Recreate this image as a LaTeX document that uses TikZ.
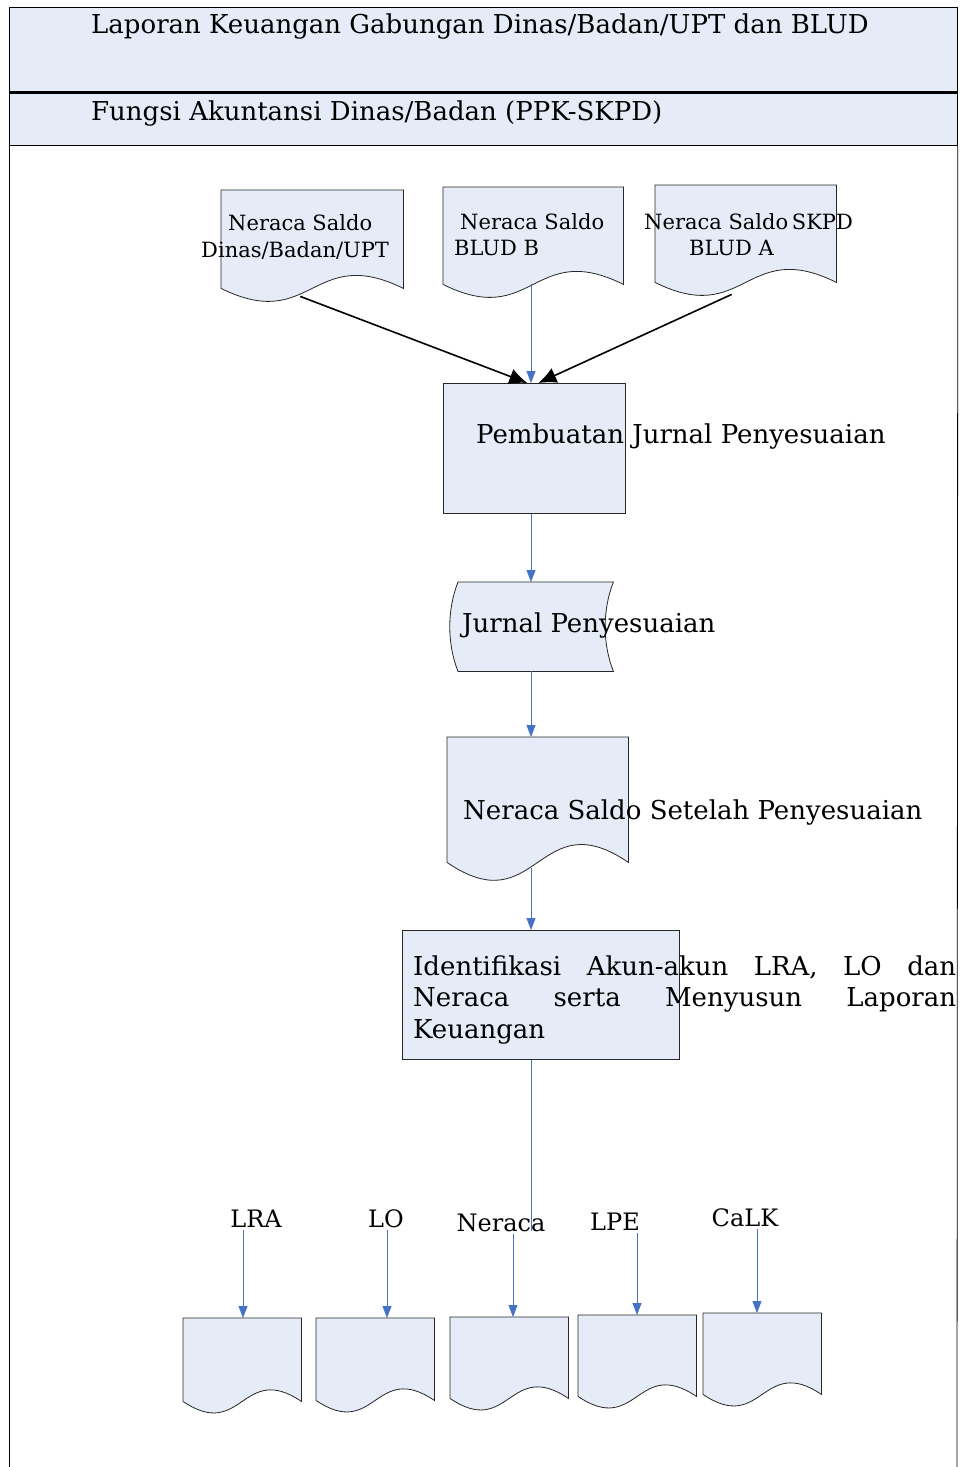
\documentclass[tikz,border=0pt]{standalone}
\usepackage{fontspec}
\setmainfont{DejaVu Serif}
\usepackage{xcolor}
\usepackage{tikz}
\usetikzlibrary{positioning,arrows.meta}

\definecolor{boxfill}{HTML}{E6ECF7}
\definecolor{flowblue}{HTML}{4472C4}

% document shape with wavy bottom around the node's south side
\newcommand{\docshape}[2][40pt]{%
  \filldraw[draw=black!85, fill=boxfill, line width=0.8pt]
    (#2.north west) -- (#2.north east) -- (#2.south east)
    .. controls ([yshift=#1]#2.south) and ([yshift=-#1]#2.south) .. (#2.south west) -- cycle;}

\begin{document}
\begin{tikzpicture}[x=1pt, y=-1pt,
  docbox/.style={inner sep=0, anchor=north west},
  procbox/.style={draw=black!85, fill=boxfill, line width=0.8pt, inner sep=0, anchor=north west},
  txt/.style={inner sep=0, anchor=base west, font=\fontsize{26}{31.5}\selectfont},
  lbl/.style={inner sep=0, anchor=base, font=\fontsize{24}{30}\selectfont},
  small/.style={inner sep=0, anchor=base west, font=\fontsize{21}{24}\selectfont},
  flow/.style={draw=flowblue, line width=0.8pt, -{Triangle[length=12pt,width=9pt]}},
  feed/.style={black, line width=1.6pt, -{Latex[length=18pt,width=16pt]}}]

\useasboundingbox (0,0) rectangle (963,1467);

% header bands and frame
\node[procbox, draw=black, minimum width=948, minimum height=85] (judul) at (9,7) {};
\node[procbox, draw=black, minimum width=948, minimum height=53] (fungsi) at (9,92) {};
\draw[line width=2.8pt] (judul.south west) -- (judul.south east);
\draw[line width=0.8pt] (fungsi.south west) -- (9,1467);
\draw[line width=0.8pt] (fungsi.south east) -- (957,1467);
\node[txt] (tjudul) at (91,33) {Laporan Keuangan Gabungan Dinas/Badan/UPT dan BLUD};
\node[txt] (tfungsi) at (91,120) {Fungsi Akuntansi Dinas/Badan (PPK-SKPD)};

% neraca saldo sources
\node[docbox, minimum width=182, minimum height=98] (dinas) at (221,190) {};
\node[docbox, minimum width=180, minimum height=97] (bludb) at (443,187) {};
\node[docbox, minimum width=181, minimum height=97] (skpd) at (655,185) {};
\docshape[45pt]{dinas}
\docshape[45pt]{bludb}
\docshape[45pt]{skpd}
\node[small] (tdinas1) at (228,230) {Neraca Saldo};
\node[small] (tdinas2) at (201,257) {Dinas/Badan/UPT};
\node[small] (tbludb1) at (460,229) {Neraca Saldo};
\node[small] (tbludb2) at (454,255) {BLUD B};
\node[small] (tskpd1) at (644,229) {Neraca Saldo\hspace{-3pt} SKPD};
\node[small] (tskpd2) at (689,255) {BLUD A};

% main flow
\coordinate (tulang) at (531,0);
\node[procbox, minimum width=182, minimum height=130] (pjp) at (443,383) {};
\node[txt] (tpjp) at (476,443) {Pembuatan Jurnal Penyesuaian};

\node[docbox, minimum width=155, minimum height=89] (jurnal) at (458,582) {};
\filldraw[draw=black!85, fill=boxfill, line width=0.8pt]
  (jurnal.north west) -- (jurnal.north east)
  .. controls ([xshift=-11pt,yshift=-28pt]jurnal.north east) and ([xshift=-11pt,yshift=28pt]jurnal.south east) .. (jurnal.south east)
  -- (jurnal.south west)
  .. controls ([xshift=-11pt,yshift=28pt]jurnal.south west) and ([xshift=-11pt,yshift=-28pt]jurnal.north west) .. (jurnal.north west) -- cycle;
\node[txt] (tjurnal) at (462,632) {Jurnal Penyesuaian};

\node[docbox, minimum width=181, minimum height=125] (nss) at (447,737) {};
\docshape[62pt]{nss}
\node[txt] (tnss) at (463,819) {Neraca Saldo Setelah Penyesuaian};

\node[procbox, minimum width=277, minimum height=129] (idn) at (402,930) {};
\node[txt, text width=543, align=justify] (tidn) at (413,975)
  {Identifikasi Akun-akun LRA, LO dan\linebreak Neraca serta Menyusun Laporan\linebreak Keuangan};

\draw[feed] ([xshift=-12pt,yshift=-8pt]dinas.south) -- ([xshift=-7pt]pjp.north);
\draw[feed] ([xshift=-14pt,yshift=-12pt]skpd.south) -- ([xshift=4pt]pjp.north);
\draw[flow] (tulang |- bludb.south) -- (tulang |- pjp.north);
\draw[flow] (tulang |- pjp.south) -- (tulang |- jurnal.north);
\draw[flow] (tulang |- jurnal.south) -- (tulang |- nss.north);
\draw[flow] ([yshift=-6pt]tulang |- nss.south) -- (tulang |- idn.north);

% reports
\node[docbox, minimum width=118, minimum height=83] (dlra) at (183,1318) {};
\node[docbox, minimum width=118, minimum height=82] (dlo) at (316,1318) {};
\node[docbox, minimum width=118, minimum height=81] (dnrc) at (450,1317) {};
\node[docbox, minimum width=118, minimum height=81] (dlpe) at (578,1315) {};
\node[docbox, minimum width=118, minimum height=81] (dcalk) at (703,1313) {};
\foreach \d in {dlra,dlo,dnrc,dlpe,dcalk} {\docshape{\d}}

\node[lbl] (tlra) at (256,1227) {LRA};
\node[lbl] (tlo) at (386,1227) {LO};
\node[lbl] (tnrc) at (501,1231) {Neraca};
\node[lbl] (tlpe) at (615,1230) {LPE};
\node[lbl] (tcalk) at (745,1226) {CaLK};

\draw[draw=flowblue, line width=0.8pt] (tulang |- idn.south) -- (tulang |- tnrc.base);
\draw[flow] ([xshift=-13pt,yshift=-3pt]tlra.base) -- ([xshift=-13pt]tlra.base |- dlra.north);
\draw[flow] ([xshift=1pt,yshift=-3pt]tlo.base) -- ([xshift=1pt]tlo.base |- dlo.north);
\draw[flow] ([xshift=12pt,yshift=-3pt]tnrc.base) -- ([xshift=12pt]tnrc.base |- dnrc.north);
\draw[flow] ([xshift=22pt,yshift=-3pt]tlpe.base) -- ([xshift=22pt]tlpe.base |- dlpe.north);
\draw[flow] ([xshift=12pt,yshift=-3pt]tcalk.base) -- ([xshift=12pt]tcalk.base |- dcalk.north);

\end{tikzpicture}
\end{document}
